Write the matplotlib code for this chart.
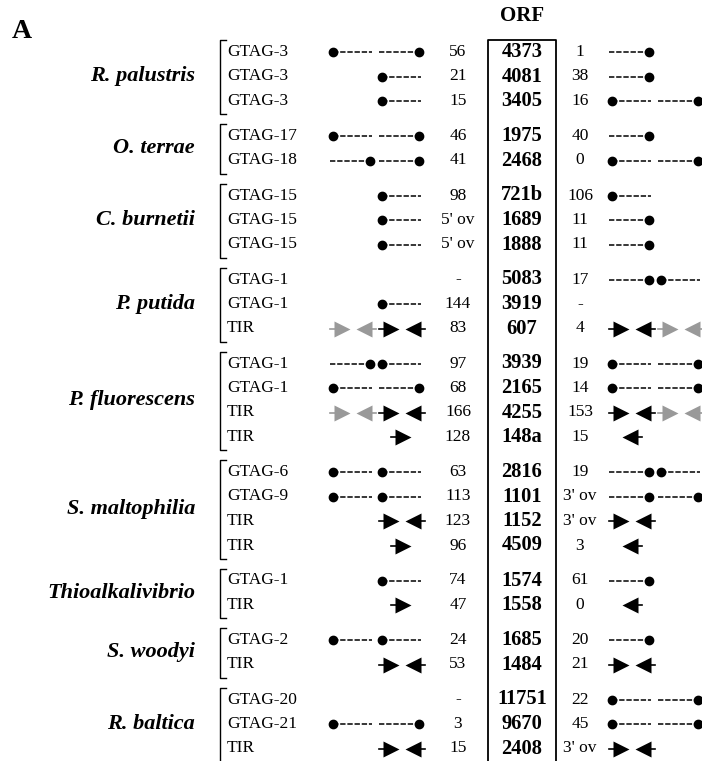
import matplotlib
matplotlib.use("Agg")
import matplotlib.pyplot as plt

plt.rcParams['font.family'] = ['Liberation Serif', 'DejaVu Serif']

# groups of rows, one list per species
species = ["R. palustris", "O. terrae", "C. burnetii", "P. putida", "P. fluorescens",
           "S. maltophilia", "Thioalkalivibrio", "S. woodyi", "R. baltica"]
elements = [["GTAG-3", "GTAG-3", "GTAG-3"],
            ["GTAG-17", "GTAG-18"],
            ["GTAG-15", "GTAG-15", "GTAG-15"],
            ["GTAG-1", "GTAG-1", "TIR"],
            ["GTAG-1", "GTAG-1", "TIR", "TIR"],
            ["GTAG-6", "GTAG-9", "TIR", "TIR"],
            ["GTAG-1", "TIR"],
            ["GTAG-2", "TIR"],
            ["GTAG-20", "GTAG-21", "TIR"]]
orf = [["4373", "4081", "3405"],
       ["1975", "2468"],
       ["721b", "1689", "1888"],
       ["5083", "3919", "607"],
       ["3939", "2165", "4255", "148a"],
       ["2816", "1101", "1152", "4509"],
       ["1574", "1558"],
       ["1685", "1484"],
       ["11751", "9670", "2408"]]
dist_up = [["56", "21", "15"],
           ["46", "41"],
           ["98", "5' ov", "5' ov"],
           ["-", "144", "83"],
           ["97", "68", "166", "128"],
           ["63", "113", "123", "96"],
           ["74", "47"],
           ["24", "53"],
           ["-", "3", "15"]]
dist_down = [["1", "38", "16"],
             ["40", "0"],
             ["106", "11", "11"],
             ["17", "-", "4"],
             ["19", "14", "153", "15"],
             ["19", "3' ov", "3' ov", "3"],
             ["61", "0"],
             ["20", "21"],
             ["22", "45", "3' ov"]]
# neighbour elements, two slots each side
# L = dot then dashed line, R = dashed line then dot, P = black TIR pair,
# G = grey TIR pair, > / < = single TIR end, . = nothing
up_marks = [["LR", ".L", ".L"],
            ["LR", "RR"],
            [".L", ".L", ".L"],
            ["..", ".L", "GP"],
            ["RL", "LR", "GP", ".>"],
            ["LL", "LL", ".P", ".>"],
            [".L", ".>"],
            ["LL", ".P"],
            ["..", "LR", ".P"]]
down_marks = [["R.", "R.", "LR"],
              ["R.", "LR"],
              ["L.", "R.", "R."],
              ["RL", "..", "PG"],
              ["LR", "LR", "PG", "<."],
              ["RL", "RR", "P.", "<."],
              ["R.", "<."],
              ["R.", "P."],
              ["LR", "LR", "P."]]

DASH = (0, (3.5, 1.2))
GREY = "#999999"


def tir(ax, x, y, d, color):
    if d == ">":
        ax.plot([x - 12, x], [y, y], color=color, lw=1.2)
    else:
        ax.plot([x, x + 12], [y, y], color=color, lw=1.2)
    ax.plot(x, y, d, ms=11.5, color=color, mec="none")


def draw_slot(ax, code, x0, y):
    if code == "L":
        ax.plot([x0 + 3, x0 + 42], [y, y], ls=DASH, color="k", lw=1.1)
        ax.plot(x0 + 3, y, "o", ms=6, color="k")
    elif code == "R":
        ax.plot([x0, x0 + 40], [y, y], ls=DASH, color="k", lw=1.1)
        ax.plot(x0 + 40, y, "o", ms=6, color="k")
    elif code in "PG":
        c = "k" if code == "P" else GREY
        tir(ax, x0 + 12, y, ">", c)
        tir(ax, x0 + 34, y, "<", c)
    elif code == ">":
        tir(ax, x0 + 24, y, ">", "k")
    elif code == "<":
        tir(ax, x0 + 21, y, "<", "k")


fig = plt.figure(figsize=(7.02, 7.61), dpi=100)
ax = fig.add_axes([0, 0, 1, 1])
ax.set_xlim(0, 702)
ax.set_ylim(761, 0)
ax.axis("off")

pitch, gap, y = 24.5, 10.5, 52
ax.text(12, 31, "A", fontsize=20, fontweight="bold", ha="left", va="center")
ax.text(522, 16, "ORF", fontsize=15, fontweight="bold", ha="center", va="center")
ax.plot([488, 488, 556, 556], [761, 40, 40, 761], color="k", lw=1.3)

for g, name in enumerate(species):
    ys = []
    for i in range(len(elements[g])):
        ys.append(y)
        ax.text(227, y, elements[g][i], fontsize=12.5, ha="left", va="center")
        ax.text(458, y, dist_up[g][i], fontsize=12.5, ha="center", va="center")
        ax.text(522, y, orf[g][i], fontsize=14.8, fontweight="bold", ha="center", va="center")
        ax.text(580, y, dist_down[g][i], fontsize=12.5, ha="center", va="center")
        for code, x0 in zip(up_marks[g][i], (330, 379)):
            draw_slot(ax, code, x0, y)
        for code, x0 in zip(down_marks[g][i], (609, 658)):
            draw_slot(ax, code, x0, y)
        y += pitch
    y += gap
    top, bot = ys[0] - 12, ys[-1] + 13
    ax.plot([226, 220, 220, 226], [top, top, bot, bot], color="k", lw=1)
    ax.text(195, (ys[0] + ys[-1]) / 2, name, fontsize=16, fontweight="bold",
            fontstyle="italic", ha="right", va="center")

fig.savefig("out.png", dpi=100)
